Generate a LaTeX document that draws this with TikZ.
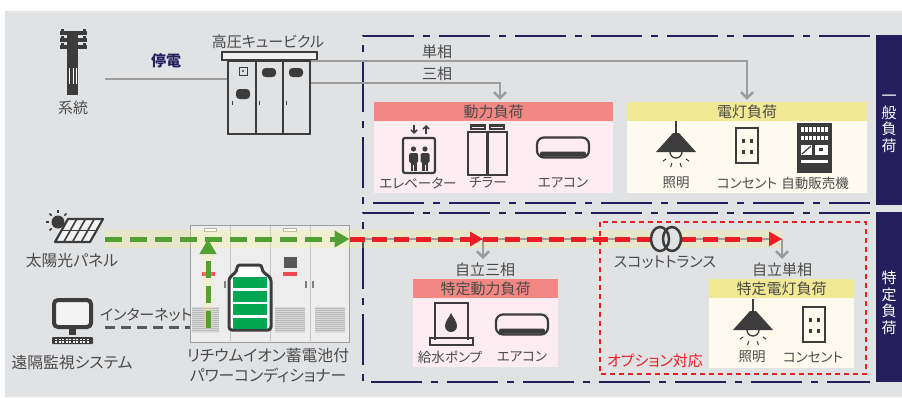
\documentclass[tikz,border=0pt]{standalone}
\usepackage{fontspec}
\setmainfont{Noto Sans CJK JP}[RawFeature=+palt]
\usetikzlibrary{arrows.meta,positioning,calc}

\definecolor{bggray}{HTML}{E1E2E4}
\definecolor{navy}{HTML}{241F5C}
\definecolor{salmon}{HTML}{F28783}
\definecolor{pinkbg}{HTML}{FDEDF2}
\definecolor{lemon}{HTML}{F2E994}
\definecolor{creambg}{HTML}{FEFBEE}
\definecolor{ink}{HTML}{3C3C3C}
\definecolor{txt}{HTML}{4A4A4A}
\definecolor{wire}{HTML}{9C9C9C}
\definecolor{pvgreen}{HTML}{52A035}
\definecolor{fedred}{HTML}{EE1C25}
\definecolor{cellgreen}{HTML}{00A651}
\definecolor{cabinet}{HTML}{ECEDEC}

\newcommand\lblfont{\fontsize{15pt}{17pt}\selectfont}
\newcommand\biglblfont{\fontsize{15.8pt}{20pt}\selectfont}
\newcommand\itemfont{\fontsize{13.5pt}{16pt}\selectfont}
\newcommand\tabfont{\fontsize{15pt}{16.5pt}\selectfont}

\begin{document}
\begin{tikzpicture}[x=1pt, y=-1pt, every node/.style={inner sep=0pt, text=txt, font=\lblfont}]
\tikzset{zone/.style={navy, line width=2.5pt, dash pattern=on 51pt off 9pt on 7pt off 9pt}}
\tikzset{tab/.style={fill=navy, minimum width=26pt, minimum height=170pt}}
\tikzset{hdr/.style={minimum height=19pt}}
\tikzset{item/.style={font=\itemfont}}
\tikzset{icon/.style={ink, line width=2.2pt}}
\tikzset{feed/.style={wire, line width=2.5pt, -{Straight Barb[length=6pt,width=12pt]}}}
\tikzset{pvflow/.style={pvgreen, line width=5pt, dash pattern=on 17pt off 8pt, -{Triangle[length=15pt,width=16pt]}}}
\tikzset{ssflow/.style={fedred, line width=5pt, dash pattern=on 15pt off 7pt, -{Triangle[length=13pt,width=14pt]}}}
\tikzset{glow/.style={yellow!55!white, line width=18pt, opacity=0.22}}
\tikzset{aircon/.pic={
  \draw[icon, rounded corners=7pt] (-26,-10) rectangle (26,10);
  \fill[ink, rounded corners=2pt] (-23,4) rectangle (23,9);
  \fill[white] (22,1) circle (0.6);
}}
\tikzset{lamp/.pic={
  \draw[ink, line width=1.6pt] (0,-31) -- (0,-18);
  \fill[ink] (-20,0) -- (-3,-19) -- (3,-19) -- (20,0) -- cycle;
  \draw[ink, line width=1.3pt] (-6,0) arc[start angle=180, end angle=0, radius=6];
  \foreach \a in {35,70,110,145} \draw[ink, line width=1pt] (\a:12) -- (\a:16);
}}
\tikzset{outlet/.pic={
  \draw[icon] (-11,-17.5) rectangle (11,17.5);
  \foreach \sx in {-4,4} \foreach \sy in {-7,4} \fill[ink] (\sx-1.5,\sy) rectangle (\sx+1.5,\sy+4);
}}

\useasboundingbox (0,0) rectangle (902,397);
\fill[white] (0,0) rectangle (902,397);
\fill[bggray] (5,11) rectangle (902,397);

% load zones
\draw[zone] (870,36) -- (363,36) -- (363,203) -- (870,203);
\draw[zone] (870,213) -- (363,213) -- (363,382) -- (870,382);
\node[tab] (gentab) at (889,120) {};
\node[tab] (spctab) at (889,297) {};
\node[text=white, font=\tabfont, align=center] (gentxt) at (889,124) {一\\般\\負\\荷};
\node[text=white, font=\tabfont, align=center] (spctxt) at (889,303) {特\\定\\負\\荷};

% utility pole
\fill[ink] (67,31) rectangle (78,95);
\foreach \y in {31,38,45} \fill[ink] (60,\y) rectangle (87,\y+4);
\foreach \x in {61,83} \foreach \y in {29,36,43} \fill[ink] (\x,\y) rectangle (\x+3,\y+2);
\foreach \x in {70,73.5,77} \draw[white, line width=1pt] (\x-0.5,68) -- (\x-0.5,84);
\node (gridlbl) at (73,108) {系統};
\coordinate (grid) at (105,79);

% cubicle
\node[draw=ink, line width=2.5pt, minimum width=82pt, minimum height=73pt] (cub) at (269,97.5) {};
\node[draw=ink, fill=bggray!50!white, line width=2.5pt, minimum width=95pt, minimum height=8pt] (roof) at (269.5,56) {};
\foreach \x in {256,283} \draw[ink, line width=2.5pt] (\x,61) -- (\x,134);
\draw[ink, line width=1pt] (239,67) rectangle (247,75);
\fill[ink] (243,71) circle (1.2);
\fill[ink, rounded corners=3.5pt] (236,89) rectangle (250,99);
\fill[ink, rounded corners=3.5pt] (262,68) rectangle (276,77);
\fill[ink, rounded corners=3.5pt] (289,68) rectangle (303,77);
\foreach \x in {232,259,286} \draw[ink, line width=0.8pt] (\x,101) -- (\x,105);
\node (cublbl) at (268,42) {高圧キュービクル};
\draw[wire, line width=2.5pt] (grid) -- (grid -| cub.west);
\node[text=navy, font=\lblfont\bfseries] (outage) at (166,61) {停電};

% general loads
\node[hdr, fill=salmon, minimum width=239pt] (pwr) at (493.5,111.5) {動力負荷};
\node[fill=pinkbg, minimum width=239pt, minimum height=72pt, below=0pt of pwr] (pwrbody) {};
\node[hdr, fill=lemon, minimum width=240pt] (lite) at (747,111.5) {電灯負荷};
\node[fill=creambg, minimum width=240pt, minimum height=72pt, below=0pt of lite] (litebody) {};
\draw[feed] ($(cub.north east)+(0,1)$) -| ($(lite.north)+(0,-2)$);
\draw[feed] ($(cub.north east)+(0,23)$) -| ($(pwr.north)+(6.5,-2)$);
\node (single) at (437,52) {単相};
\node (three) at (437,74) {三相};

% elevator
\draw[icon, rounded corners=2pt] (403,138) rectangle (435,173);
\foreach \x in {413.5,425} {
  \fill[ink] (\x,149) circle (2.6);
  \fill[ink, rounded corners=1.5pt] (\x-4.5,153) rectangle (\x+4.5,163);
  \fill[ink] (\x-3,162) rectangle (\x+3,171);
  \draw[pinkbg, line width=0.8pt] (\x,165) -- (\x,171);
}
\draw[ink, line width=1.5pt, -{Straight Barb[length=3pt,width=6pt]}] (414,125) -- (414,134);
\draw[ink, line width=1.5pt, -{Straight Barb[length=3pt,width=6pt]}] (426,134) -- (426,125);
% chiller
\draw[icon] (468,132) rectangle (507,175);
\draw[icon] (487.5,132) -- (487.5,175);
\foreach \x in {470,489} {
  \fill[ink] (\x,124) rectangle (\x+16,130);
  \draw[pinkbg, line width=0.8pt] (\x+2,127) -- (\x+14,127);
}
\pic at (563,147.5) {aircon};
\node[item] (elev) at (418,183) {エレベーター};
\node[item] (chill) at (488,183) {チラー};
\node[item] (ac) at (563,183) {エアコン};

% lighting loads
\pic at (676,152) {lamp};
\pic at (747,145.5) {outlet};
\fill[ink] (797,123) rectangle (832,173);
\foreach \x in {801,805,...,825} {
  \fill[white] (\x,127) rectangle (\x+2.5,132);
  \fill[white] (\x,136) rectangle (\x+2.5,140);
}
\fill[white] (801,145) rectangle (812,155);
\draw[ink, line width=1.2pt] (802,154) -- (811,146);
\fill[white] (815,145) rectangle (828,155);
\fill[ink] (819,148) rectangle (823,151);
\fill[white] (801,160) rectangle (828,163);
\node[item] (light) at (676,183) {照明};
\node[item] (sock) at (747,183) {コンセント};
\node[item] (vend) at (815,183) {自動販売機};

% solar panel
\fill[ink] (58,222) circle (6.5);
\foreach \a in {-135,-90,-45,180,135} \draw[ink, line width=1.5pt] ($(58,222)+(\a:9)$) -- ($(58,222)+(\a:12)$);
\draw[icon, fill=bggray!40!white, line join=round] (55,242) -- (68,219) -- (103,219) -- (90,242) -- cycle;
\foreach \t in {0.25,0.5,0.75} \draw[ink, line width=1.6pt] ($(55,242)!\t!(90,242)$) -- ($(68,219)!\t!(103,219)$);
\draw[ink, line width=1.6pt] (61.5,230.5) -- (96.5,230.5);
\node[font=\biglblfont] (pvlbl) at (72,261) {太陽光パネル};
\coordinate (pvout) at (105,239);

% monitoring pc
\draw[ink, line width=4pt, rounded corners=4pt, fill=bggray!40!white] (54,300) rectangle (91,327);
\fill[ink] (69,329) rectangle (76,335);
\fill[ink, rounded corners=1pt] (52,337) rectangle (93,344);
\foreach \x in {55,58.5,...,89} {
  \fill[white] (\x,338.8) rectangle (\x+2,340.2);
  \fill[white] (\x,341.3) rectangle (\x+2,342.6);
}
\node[font=\biglblfont] (pclbl) at (72,362) {遠隔監視システム};
\coordinate (pc) at (105,327);

% battery power conditioner
\node[fill=cabinet, draw=gray!75, line width=1pt, minimum width=159pt, minimum height=117pt] (pcs) at (269.5,283.5) {};
\foreach \x in {230,270,310} \draw[gray!45, line width=0.8pt] (\x,226) -- (\x,341);
\foreach \x/\w in {192/27,275/30,315/30} {
  \fill[gray!30] (\x,307) rectangle (\x+\w,333);
  \foreach \y in {308.5,310.5,...,332} \draw[gray!55, line width=0.5pt] (\x,\y) -- (\x+\w,\y);
}
\draw[gray!60, fill=white, line width=0.4pt] (204,228) rectangle (216,231);
\draw[gray!60, fill=white, line width=0.4pt] (283,228) rectangle (296,231);
\fill[fedred!80] (202,272) rectangle (215,276);
\fill[fedred!80] (283,272) rectangle (297,276);
\fill[ink!85] (284,257) rectangle (297,268);
\foreach \x in {225,306,313} \draw[gray, line width=1.2pt] (\x,281) -- (\x,288);
\draw[ink, line width=3pt, fill=white, rounded corners=3pt] (229,330) -- (229,278) -- (237,271) -- (237,265) -- (262,265) -- (262,271) -- (271,278) -- (271,330) -- cycle;
\foreach \y in {277,290.5,304,317.5} \fill[cellgreen] (233,\y) rectangle (267,\y+11);
\node[font=\biglblfont, align=center] (pcslbl) at (268,365) {リチウムイオン蓄電池付\\パワーコンディショナー};
\draw[ink!85, line width=3pt, dash pattern=on 10pt off 6pt] (pc) -- (pc -| pcs.west);
\node (netlbl) at (146,315) {インターネット};

% power flow during outage
\coordinate (tap3) at (483,239);
\coordinate (tap1) at (782,239);
\coordinate (cellout) at (208,328);
\draw[glow] (pvout) -- (tap1);
\draw[glow, line width=10pt] (cellout) -- (cellout |- pvout);
\draw[wire, line width=2pt] (pcs.east |- pvout) -- (tap1);
\draw[feed] (tap3) -- ($(tap3)+(0,20)$) coordinate (ind3top);
\draw[feed] (tap1) -- ($(tap1)+(0,20)$) coordinate (ind1top);
\draw[ssflow] (pcs.east |- pvout) -- (tap3);
\draw[ssflow] (tap3) -- (tap1);
\draw[pvflow] (pvout) -- (pvout -| pcs.east);
\draw[pvflow] (cellout) -- (cellout |- pvout);

% scott transformer
\fill[bggray] (660,239) ellipse (9 and 12);
\fill[bggray] (672,239) ellipse (9 and 12);
\draw[ink, line width=2.5pt] (660,239) ellipse (9 and 12);
\draw[ink, line width=2.5pt] (672,239) ellipse (9 and 12);
\node (scott) at (665,262) {スコットトランス};

% specified loads
\node (ind3) at (485,270) {自立三相};
\node[hdr, fill=salmon, minimum width=145pt] (spwr) at (485.5,288.5) {特定動力負荷};
\node[fill=pinkbg, minimum width=145pt, minimum height=69pt, below=0pt of spwr] (spwrbody) {};
\draw[icon] (435,340) -- (435,303) -- (468,303) -- (468,340);
\draw[ink, line width=2pt] (430,338) rectangle (473,345);
\fill[ink] (451,313) .. controls (453,318) and (457,321) .. (457,326) arc[start angle=0, end angle=180, radius=6] .. controls (445,321) and (449,318) .. (451,313);
\pic at (522,324.5) {aircon};
\node[item] (pump) at (450,357) {給水ポンプ};
\node[item] (sac) at (522,357) {エアコン};

\draw[fedred, line width=2.5pt, dash pattern=on 5pt off 4pt] (600,222) rectangle (866,374);
\node (ind1) at (782,270) {自立単相};
\node[hdr, fill=lemon, minimum width=145pt] (slite) at (781.5,288.5) {特定電灯負荷};
\node[fill=creambg, minimum width=145pt, minimum height=70pt, below=0pt of slite] (slitebody) {};
\pic at (753,330) {lamp};
\pic at (814,324.5) {outlet};
\node[item] (slight) at (752,357) {照明};
\node[item] (ssock) at (813,357) {コンセント};
\node[text=fedred] (option) at (655,361) {オプション対応};
\end{tikzpicture}
\end{document}
